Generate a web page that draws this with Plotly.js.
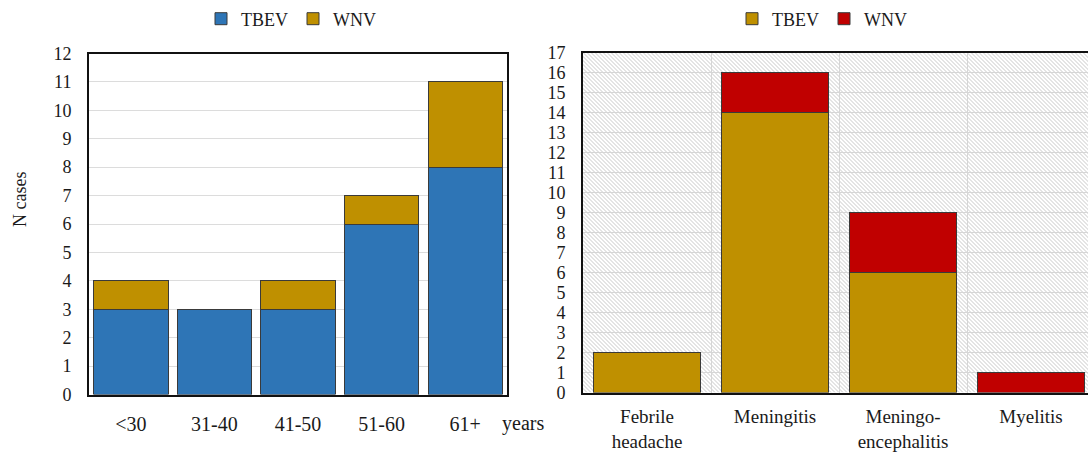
<!DOCTYPE html>
<html>
<head>
<meta charset="utf-8">
<script src="https://cdn.plot.ly/plotly-3.0.1.min.js"></script>
<style>
html,body{margin:0;padding:0;background:#fff;overflow:hidden;}
#chart{width:1100px;height:452px;}
</style>
</head>
<body>
<div id="chart"></div>
<script>
// ---- data ----
const ageGroups = ["<30", "31-40", "41-50", "51-60", "61+"];
const ageTBEV = [3, 3, 3, 6, 8];
const ageWNV = [1, 0, 1, 1, 3];

const syndromes = ["Febrile<br>headache", "Meningitis", "Meningo-<br>encephalitis", "Myelitis"];
const synTBEV = [2, 14, 6, 0];
const synWNV = [0, 2, 3, 1];

const leftTicks = [0,1,2,3,4,5,6,7,8,9,10,11,12];
const rightTicks = [0,1,2,3,4,5,6,7,8,9,10,11,12,13,14,15,16,17];

// ---- styles ----
const W = 1100, H = 452;
const FONT = "Liberation Serif, Times New Roman, serif";
const TXT = "#1a1a1a";
const C_BLUE = "#2E75B6", C_GOLD = "#BF9000", C_RED = "#C00000";
const EDGE = {color: "#3a3a3a", width: 1};
const nz = a => a.map(v => v === 0 ? null : v);

const px = v => v / W;
const py = v => (H - v) / H;

const traces = [
  {type: "bar", name: "TBEV", x: ageGroups, y: nz(ageTBEV), width: 0.89,
   marker: {color: C_BLUE, line: EDGE}, xaxis: "x", yaxis: "y", legend: "legend"},
  {type: "bar", name: "WNV", x: ageGroups, y: nz(ageWNV), width: 0.89,
   marker: {color: C_GOLD, line: EDGE}, xaxis: "x", yaxis: "y", legend: "legend"},
  {type: "bar", name: "TBEV", x: syndromes, y: nz(synTBEV), width: 0.84,
   marker: {color: C_GOLD, line: EDGE}, xaxis: "x2", yaxis: "y2", legend: "legend2"},
  {type: "bar", name: "WNV", x: syndromes, y: nz(synWNV), width: 0.84,
   marker: {color: C_RED, line: EDGE}, xaxis: "x2", yaxis: "y2", legend: "legend2"}
];

const hatchW = 512, hatchH = 340;
const hatchSvg = `<svg xmlns='http://www.w3.org/2000/svg' width='${hatchW}' height='${hatchH}'>` +
  `<defs><pattern id='p' width='4' height='4' patternUnits='userSpaceOnUse'>` +
  `<rect width='4' height='4' fill='#ffffff'/>` +
  `<path d='M0,0L4,4M-1,3L1,5M3,-1L5,1' stroke='#c8c8c8' stroke-width='1'/></pattern></defs>` +
  `<rect width='100%' height='100%' fill='url(#p)'/></svg>`;
const hatchURI = "data:image/svg+xml;charset=utf-8," + encodeURIComponent(hatchSvg);

const axisCommon = {
  showline: true, mirror: true, linecolor: "#111", linewidth: 2,
  zeroline: false, ticks: "", fixedrange: true,
  tickfont: {family: FONT, size: 18, color: TXT}
};

const layout = {
  width: W, height: H,
  margin: {l: 0, r: 0, t: 0, b: 0},
  paper_bgcolor: "#ffffff",
  plot_bgcolor: "rgba(0,0,0,0)",
  barmode: "stack",
  font: {family: FONT, color: TXT},
  xaxis: Object.assign({}, axisCommon, {
    domain: [px(89), px(507)], anchor: "y", showgrid: false,
    tickfont: {family: FONT, size: 20, color: TXT}, ticklabelstandoff: 10
  }),
  yaxis: Object.assign({}, axisCommon, {
    domain: [py(394.5), py(53.5)], anchor: "x", range: [0, 12],
    tickvals: leftTicks, showgrid: true, gridcolor: "#dcdcdc", gridwidth: 1,
    ticklabelstandoff: 12
  }),
  xaxis2: Object.assign({}, axisCommon, {
    domain: [px(583), px(1095)], anchor: "y2", showgrid: true,
    gridcolor: "#d6d6d6", tickson: "boundaries",
    tickfont: {family: FONT, size: 19, color: TXT}, ticklabelstandoff: 6
  }),
  yaxis2: Object.assign({}, axisCommon, {
    domain: [py(392.5), py(52.5)], anchor: "x2", range: [0, 17],
    tickvals: rightTicks, showgrid: true, gridcolor: "#d6d6d6", gridwidth: 1,
    ticklabelstandoff: 12
  }),
  legend: {
    orientation: "h", x: px(291), xanchor: "center", y: py(19), yanchor: "middle",
    font: {family: FONT, size: 18, color: TXT}, bgcolor: "rgba(0,0,0,0)",
    itemwidth: 30, traceorder: "normal"
  },
  legend2: {
    orientation: "h", x: px(822), xanchor: "center", y: py(19), yanchor: "middle",
    font: {family: FONT, size: 18, color: TXT}, bgcolor: "rgba(0,0,0,0)",
    itemwidth: 30, traceorder: "normal"
  },
  images: [{
    source: hatchURI, xref: "paper", yref: "paper",
    x: px(583), y: py(52.5), sizex: 512 / W, sizey: 340 / H,
    xanchor: "left", yanchor: "top", sizing: "stretch", layer: "below"
  }],
  annotations: [
    {text: "N cases", xref: "paper", yref: "paper", x: px(20), y: py(200),
     xanchor: "center", yanchor: "middle",
     textangle: -90, showarrow: false, font: {family: FONT, size: 18, color: TXT}},
    {text: "years", xref: "paper", yref: "paper", x: px(523), y: py(423),
     xanchor: "center", yanchor: "middle",
     showarrow: false, font: {family: FONT, size: 20, color: TXT}}
  ],
  showlegend: true
};

Plotly.newPlot("chart", traces, layout, {displayModeBar: false, responsive: false, staticPlot: true});
</script>
</body>
</html>
